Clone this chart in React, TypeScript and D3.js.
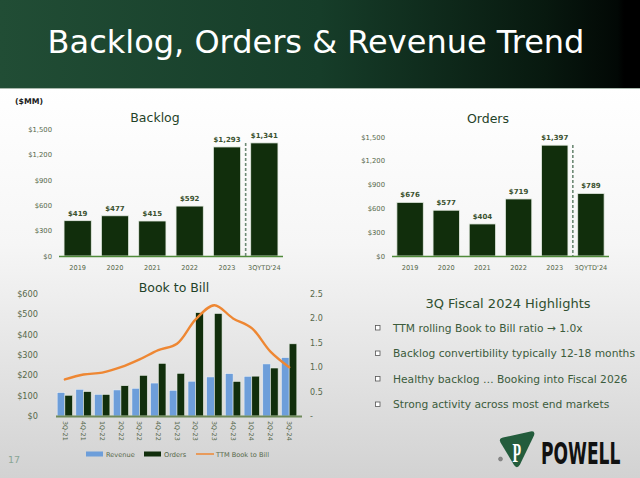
import React from "react";
import * as d3 from "d3";

// annual data ($MM)
const years = ["2019", "2020", "2021", "2022", "2023", "3QYTD'24"];
const backlog = [419, 477, 415, 592, 1293, 1341];
const orders = [676, 577, 404, 719, 1397, 789];
const annualTicks = [0, 300, 600, 900, 1200, 1500];

// quarterly data
const quarters = ["3Q-21", "4Q-21", "1Q-22", "2Q-22", "3Q-22", "4Q-22", "1Q-23", "2Q-23", "3Q-23", "4Q-23", "1Q-24", "2Q-24", "3Q-24"];
const qRevenue = [115, 131, 106, 128, 136, 162, 126, 171, 192, 208, 195, 256, 287];
const qOrders = [102, 120, 106, 149, 200, 259, 210, 508, 504, 170, 196, 236, 355];
const ttmBookToBill = [0.75, 0.85, 0.89, 1.0, 1.16, 1.35, 1.48, 1.98, 2.27, 2.0, 1.8, 1.32, 1.0];
const leftTicks = [0, 100, 200, 300, 400, 500, 600];
const rightTicks = [0, 0.5, 1.0, 1.5, 2.0, 2.5];

const highlights = [
  "TTM rolling Book to Bill ratio \u2192 1.0x",
  "Backlog convertibility typically 12-18 months",
  "Healthy backlog \u2026 Booking into Fiscal 2026",
  "Strong activity across most end markets",
];

const FONT = "'DejaVu Sans', Verdana, sans-serif";
const DARK = "#112e0c";
const BLUE = "#6d9eda";
const ORANGE = "#ee8733";
const TICK = "#56684a";
const LABEL = "#3b5230";
const TITLE = "#1f4228";

const money = d3.format("$,");

function AnnualChart({ title, values, left, right, top, titleX, titleY, dashTop }) {
  const x = d3.scaleBand().domain(years).range([left, right]).paddingInner(0.27).paddingOuter(0.135);
  const y = d3.scaleLinear().domain([0, 1500]).range([256, top]);
  const lastX = x(years[years.length - 1]);
  const prevX = x(years[years.length - 2]) + x.bandwidth();
  const dashX = (lastX + prevX) / 2;
  return (
    <g>
      <text x={titleX} y={titleY} textAnchor="middle" fontSize={12.5} fill={TITLE} fontFamily={FONT}>
        {title}
      </text>
      {annualTicks.map((t) => (
        <text key={t} x={left - 7} y={y(t) + 2.5} textAnchor="end" fontSize={6.8} fill={TICK} fontFamily={FONT}>
          {money(t)}
        </text>
      ))}
      {values.map((v, i) => (
        <g key={years[i]}>
          <rect x={x(years[i])} y={y(v)} width={x.bandwidth()} height={y(0) - y(v)} fill={DARK} stroke="#e6ede4" strokeWidth={0.8} />
          <text x={x(years[i]) + x.bandwidth() / 2} y={y(v) - 5} textAnchor="middle" fontSize={7} fontWeight="bold" fill={LABEL} fontFamily={FONT}>
            {money(v)}
          </text>
          <text x={x(years[i]) + x.bandwidth() / 2} y={270} textAnchor="middle" fontSize={6.6} fill={TICK} fontFamily={FONT}>
            {years[i]}
          </text>
        </g>
      ))}
      <line x1={left} x2={right} y1={256.5} y2={256.5} stroke="#4f8a3a" strokeWidth={1.3} />
      <line x1={dashX} x2={dashX} y1={dashTop} y2={256} stroke="#6d8a75" strokeWidth={1.6} strokeDasharray="3,2" />
    </g>
  );
}

function BookToBill() {
  const x = d3.scaleBand().domain(quarters).range([55.5, 298.5]).paddingInner(0.18).paddingOuter(0.09);
  const sub = d3.scaleBand().domain(["rev", "ord"]).range([0, x.bandwidth()]);
  const y = d3.scaleLinear().domain([0, 600]).range([416, 294]);
  const y2 = d3.scaleLinear().domain([0, 2.5]).range([416, 294]);
  const line = d3
    .line<number>()
    .x((_, i) => x(quarters[i]) + x.bandwidth() / 2)
    .y((d) => y2(d))
    .curve(d3.curveCatmullRom.alpha(0.5));
  return (
    <g>
      <text x={174} y={292} textAnchor="middle" fontSize={12.5} fill={TITLE} fontFamily={FONT}>
        Book to Bill
      </text>
      {leftTicks.map((t) => (
        <text key={t} x={38} y={y(t) + 3} textAnchor="end" fontSize={8.2} fill={TICK} fontFamily={FONT}>
          {money(t)}
        </text>
      ))}
      {rightTicks.map((t) => (
        <text key={t} x={310} y={y2(t) + 3} textAnchor="start" fontSize={8} fill={TICK} fontFamily={FONT}>
          {t === 0 ? "-" : d3.format(".1f")(t)}
        </text>
      ))}
      {quarters.map((q, i) => (
        <g key={q}>
          <rect x={x(q) + sub("rev")} y={y(qRevenue[i])} width={sub.bandwidth()} height={y(0) - y(qRevenue[i])} fill={BLUE} stroke="#eef2f6" strokeWidth={0.5} />
          <rect x={x(q) + sub("ord")} y={y(qOrders[i])} width={sub.bandwidth()} height={y(0) - y(qOrders[i])} fill={DARK} stroke="#e6ede4" strokeWidth={0.6} />
          <text
            transform={`translate(${x(q) + x.bandwidth() / 2 - 2.3},421) rotate(90)`}
            fontSize={6.4}
            fill={TICK}
            fontFamily={FONT}
          >
            {q}
          </text>
        </g>
      ))}
      <line x1={56} x2={302} y1={416.5} y2={416.5} stroke="#6f8a5a" strokeWidth={2} />
      <path d={line(ttmBookToBill) || ""} fill="none" stroke={ORANGE} strokeWidth={2.4} strokeLinecap="round" />
      {/* legend */}
      <rect x={86} y={451.5} width={17} height={5} fill={BLUE} />
      <text x={106} y={456.5} fontSize={6.6} fill={TICK} fontFamily={FONT}>Revenue</text>
      <rect x={144} y={451.5} width={17} height={5} fill={DARK} />
      <text x={164} y={456.5} fontSize={6.6} fill={TICK} fontFamily={FONT}>Orders</text>
      <line x1={196} x2={214} y1={454} y2={454} stroke={ORANGE} strokeWidth={1.5} />
      <text x={216} y={456.5} fontSize={6.6} fill={TICK} fontFamily={FONT}>TTM Book to Bill</text>
    </g>
  );
}

export default function App() {
  return (
    <svg width={640} height={478} style={{ position: "absolute", left: 0, top: 0 }}>
      <defs>
        <linearGradient id="hdr" x1="0" x2="1" y1="0" y2="0">
          <stop offset="0" stopColor="#214d35" />
          <stop offset="0.5" stopColor="#163d29" />
          <stop offset="0.85" stopColor="#08190f" />
          <stop offset="0.965" stopColor="#020805" />
          <stop offset="0.975" stopColor="#000" />
        </linearGradient>
        <linearGradient id="bg" x1="0" x2="0" y1="0" y2="1">
          <stop offset="0" stopColor="#ffffff" />
          <stop offset="0.4" stopColor="#f6f6f6" />
          <stop offset="1" stopColor="#d2d2d2" />
        </linearGradient>
      </defs>
      <rect x={0} y={88} width={640} height={390} fill="url(#bg)" />
      <rect x={0} y={0} width={640} height={88} fill="url(#hdr)" />
      <line x1={0} x2={640} y1={88.5} y2={88.5} stroke="#a9b8ad" strokeWidth={1} />
      <text x={316} y={53} textAnchor="middle" fontSize={32} fill="#ffffff" fontFamily={FONT}>
        Backlog, Orders &amp; Revenue Trend
      </text>
      <text x={15} y={104} fontSize={7.8} fontWeight="bold" fill="#1c1c1c" fontFamily={FONT}>($MM)</text>

      <AnnualChart title="Backlog" values={backlog} left={59} right={283} top={129.5} titleX={155} titleY={122} dashTop={143} />
      <AnnualChart title="Orders" values={orders} left={392} right={609} top={137} titleX={488} titleY={123} dashTop={145} />
      <BookToBill />

      {/* highlights */}
      <text x={508} y={308} textAnchor="middle" fontSize={13} fill="#2f4f2f" fontFamily={FONT}>
        3Q Fiscal 2024 Highlights
      </text>
      {highlights.map((h, i) => (
        <g key={h}>
          <rect x={375.5} y={325.5 + i * 25.5} width={4.5} height={4.5} fill="#fff" stroke="#555" strokeWidth={0.8} />
          <text x={393} y={331.5 + i * 25.5} fontSize={10.7} fill="#3b5b3b" fontFamily={FONT}>
            {h}
          </text>
        </g>
      ))}

      <text x={8} y={463} fontSize={9.5} fill="#8aa596" fontFamily={FONT}>17</text>

      {/* logo */}
      <path d="M503,437.5 L530.5,431.5 Q535.5,430.5 534,435.5 L520,464.5 Q517,469.5 514,465 L500.5,442.5 Q498.5,438.5 503,437.5 Z" fill="#235c3c" />
      <text transform="translate(512.5,462) scale(0.5,1)" fontSize={28} fontWeight="bold" fill="#ffffff" fontFamily="'Liberation Serif', serif">
        P
      </text>
      <circle cx={500.5} cy={459} r={2} fill="#888" stroke="#666" strokeWidth={0.5} />
      <text transform="translate(541,464) scale(0.57,1)" fontSize={30} fontWeight="bold" fill="#111" fontFamily={FONT}>
        POWELL
      </text>
    </svg>
  );
}
